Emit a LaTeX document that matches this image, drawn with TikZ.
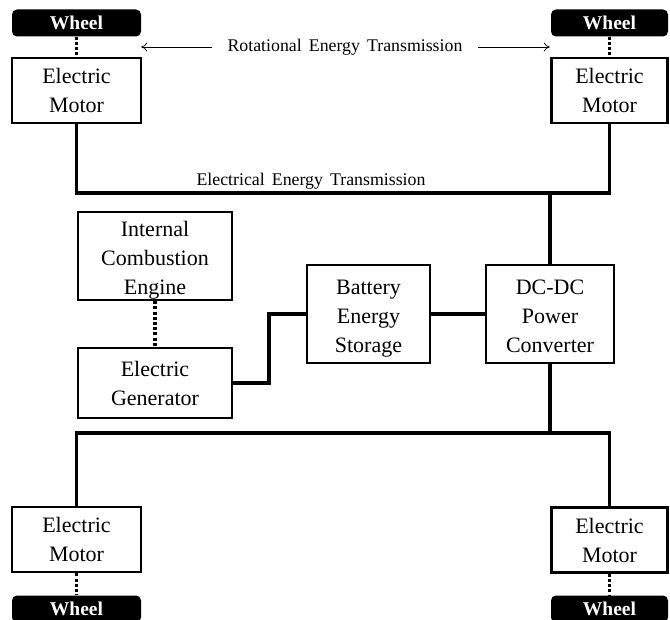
\documentclass[tikz,border=0pt]{standalone}
\usepackage{fontspec}
\setmainfont{Liberation Serif}
\usetikzlibrary{arrows.meta}
\newcommand\lift[1]{\rule{0pt}{#1}}
\begin{document}
\begin{tikzpicture}[x=1pt,y=-1pt,
  box/.style={draw,line width=2.6pt,fill=white,align=center,inner sep=0pt,
    font=\fontsize{22}{29}\selectfont},
  wheel/.style={fill=black,text=white,rounded corners=5pt,inner sep=0pt,
    font=\fontsize{19.5}{22}\selectfont\bfseries},
  bus/.style={line width=3.6pt},
  shaft/.style={line width=3.6pt,dash pattern=on 3pt off 2.2pt},
  lbl/.style={font=\fontsize{17.8}{20}\selectfont,inner sep=0pt},
  arr/.style={line width=0.7pt,-{To[length=6pt,width=9pt]}}]
\useasboundingbox (0,0) rectangle (670,620);
% wheels
\node[wheel,minimum width=129pt,minimum height=27pt] (wTL) at (76.5,23) {Wheel};
\node[wheel,minimum width=117pt,minimum height=27pt] (wTR) at (609.5,23) {Wheel};
\node[wheel,minimum width=129pt,minimum height=27pt] (wBL) at (76.5,609) {Wheel};
\node[wheel,minimum width=117pt,minimum height=27pt] (wBR) at (609.5,609) {Wheel};
% motors
\node[box,minimum width=129pt,minimum height=65pt] (mTL) at (76.5,90.5) {Electric\\Motor};
\node[box,minimum width=116pt,minimum height=65pt] (mTR) at (609.5,90.5) {Electric\\Motor};
\node[box,minimum width=129pt,minimum height=65pt] (mBL) at (76.5,539.5) {Electric\\Motor};
\node[box,minimum width=116pt,minimum height=65pt] (mBR) at (609.5,540) {Electric\\Motor};
% central blocks
\node[box,minimum width=154pt,minimum height=88pt] (ice) at (155,256) {\lift{24.3pt}Internal\\Combustion\\Engine};
\node[box,minimum width=154pt,minimum height=70pt] (gen) at (155,383) {Electric\\Generator};
\node[box,minimum width=123pt,minimum height=98pt] (bat) at (368.5,314) {\lift{23pt}Battery\\Energy\\Storage};
\node[box,minimum width=128pt,minimum height=98pt] (dc) at (550,314) {\lift{19pt}DC-DC\\Power\\Converter};
% labels
\node[lbl,inner xsep=15pt] (rot) at (345,47) {Rotational\hspace{0.15em} Energy\hspace{0.15em} Transmission};
\node[lbl] (ele) at (311,181) {Electrical\hspace{0.15em} Energy\hspace{0.15em} Transmission};
% rotational arrows
\draw[arr] (rot.west) -- (wTL.east |- rot.west);
\draw[arr] (rot.east) -- ([xshift=-1pt]wTR.west |- rot.east);
% shafts
\draw[shaft] (wTL.south) -- (mTL.north);
\draw[shaft] (wTR.south) -- (mTR.north);
\draw[shaft] (mBL.south) -- (wBL.north);
\draw[shaft] (mBR.south) -- (wBR.north);
\draw[shaft] (ice.south) -- (gen.north);
% electrical buses
\coordinate (busT) at (550,193);
\coordinate (busB) at (550,433);
\draw[bus,line join=miter] (mTL.south) |- (busT) -| (mTR.south);
\draw[bus] (busT) -- (dc.north);
\draw[bus] (dc.south) -- (busB);
\draw[bus,line join=miter] (mBL.north) |- (busB) -| (mBR.north);
\draw[bus,line join=miter] (gen.east) -- (269,383) -- (269,314) -- (bat.west);
\draw[bus] (bat.east) -- (dc.west);
\end{tikzpicture}
\end{document}
